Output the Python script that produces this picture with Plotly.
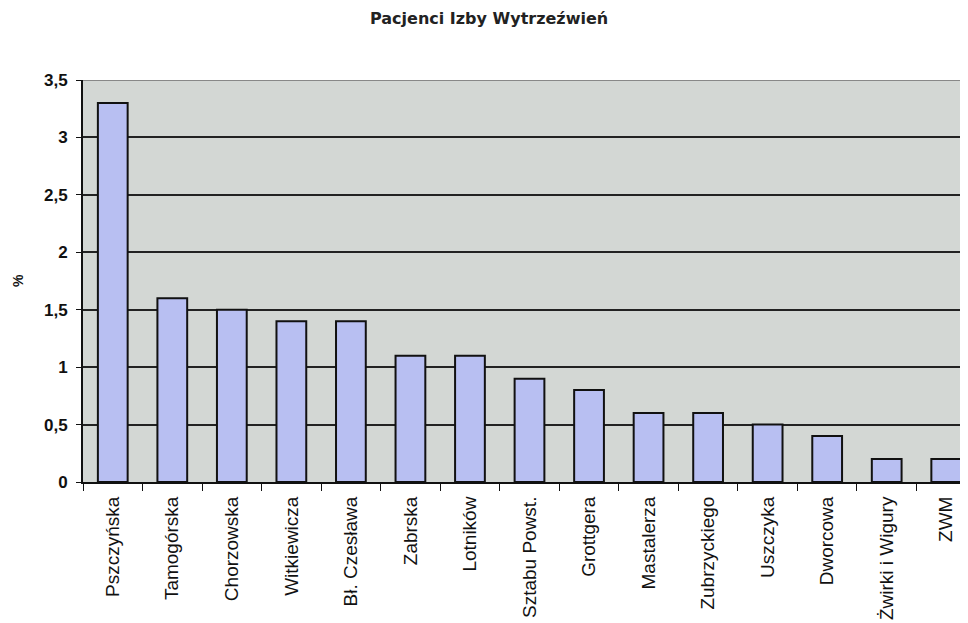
import plotly.graph_objects as go

categories = ["Pszczyńska", "Tamogórska", "Chorzowska", "Witkiewicza", "Bł. Czesława",
              "Zabrska", "Lotników", "Sztabu Powst.", "Grottgera", "Mastalerza",
              "Zubrzyckiego", "Uszczyka", "Dworcowa", "Żwirki i Wigury", "ZWM"]
values = [3.3, 1.6, 1.5, 1.4, 1.4, 1.1, 1.1, 0.9, 0.8, 0.6, 0.6, 0.5, 0.4, 0.2, 0.2]
y_ticks = [0, 0.5, 1, 1.5, 2, 2.5, 3, 3.5]
y_tick_labels = ["0", "0,5", "1", "1,5", "2", "2,5", "3", "3,5"]

fig = go.Figure(go.Bar(
    x=categories, y=values,
    marker=dict(color="#b8bff2", line=dict(color="#111111", width=2)),
    width=0.5,
))

font = "Liberation Sans, Arial, sans-serif"
fig.update_layout(
    width=968, height=623,
    margin=dict(l=75, r=0, t=72, b=149),
    paper_bgcolor="white",
    plot_bgcolor="#d3d7d4",
    showlegend=False,
    title=dict(text="<b>Pacjenci Izby Wytrzeźwień</b>", x=0.497, xanchor="center",
               y=0.984, yanchor="middle",
               font=dict(family="DejaVu Sans, sans-serif", size=16, color="#222222")),
    font=dict(family=font, color="#111111"),
)
fig.update_yaxes(
    range=[0, 3.5], tickvals=y_ticks, ticktext=y_tick_labels,
    showgrid=True, gridcolor="#222222", gridwidth=2,
    showline=True, linecolor="#111111", linewidth=2,
    ticks="outside", ticklen=5, tickcolor="#111111",
    ticklabelstandoff=5,
    tickfont=dict(size=17, family=font, color="#111111", weight="bold"),
    zeroline=False,
)
fig.update_xaxes(
    range=[-0.5, 14.5], tickangle=-90,
    showline=True, linecolor="#111111", linewidth=2,
    ticks="outside", ticklen=7, tickcolor="#111111", tickson="boundaries",
    ticklabelstandoff=5,
    tickfont=dict(size=19, family=font, color="#111111"),
    showgrid=False,
)
fig.add_shape(type="line", xref="paper", yref="y", x0=0, x1=1, y0=3.5, y1=3.5,
              line=dict(color="#888888", width=2))
fig.add_annotation(text="<b>%</b>", xref="paper", yref="paper", x=0, y=0.5,
                   xanchor="center", yanchor="middle", xshift=-65, textangle=-90,
                   showarrow=False, font=dict(size=14, family=font, color="#111111"))

fig.write_html("out.html")
